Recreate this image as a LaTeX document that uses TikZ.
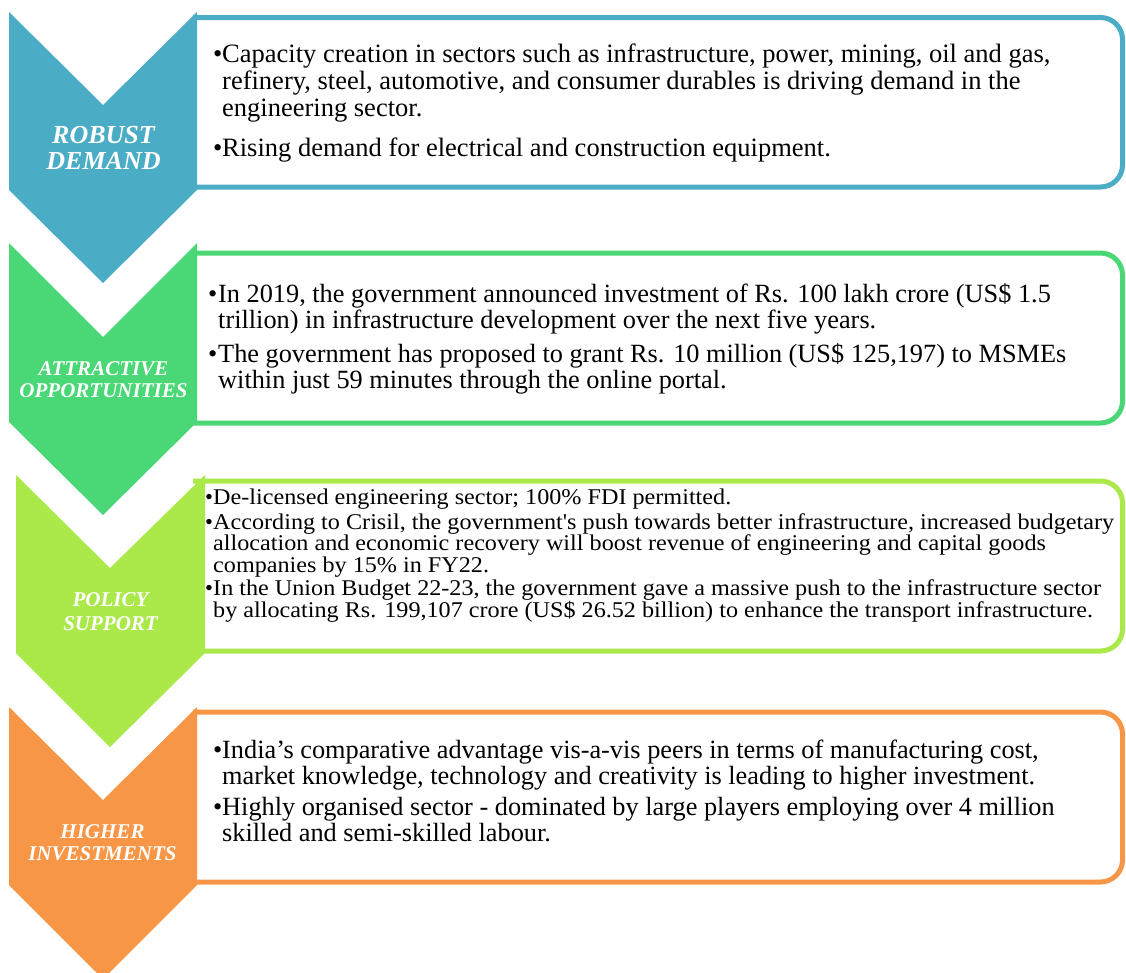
\documentclass[tikz,border=0pt]{standalone}
\usepackage{fontspec}
\usepackage{graphicx}
\setmainfont{Liberation Serif}[Ligatures=TeXOff]
\definecolor{cblue}{HTML}{4BACC6}
\definecolor{cgreen}{HTML}{4AD775}
\definecolor{clime}{HTML}{ABE84A}
\definecolor{corange}{HTML}{F79646}
\newcommand{\widebox}[1]{\scalebox{1.074}[1]{\parbox[t]{900pt}{\raggedright #1}}}
\begin{document}
\begin{tikzpicture}[x=1pt,y=-1pt,
  boxline/.style={line width=5pt, rounded corners=22pt, fill=white},
  txt/.style={inner sep=0pt, anchor=base west, text=black},
  lbl/.style={inner sep=0pt, anchor=base, text=white},
  bigtxt/.style={font=\fontsize{26.5}{27}\selectfont},
  midtxt/.style={font=\fontsize{26.3}{26}\selectfont},
  smalltxt/.style={font=\fontsize{22.5}{18.9}\selectfont},
  lbltxt/.style={font=\bfseries\itshape\fontsize{21}{22}\selectfont}]
\useasboundingbox (0,0) rectangle (1126,972);

% boxes
\begin{scope}
  \clip (193,0) rectangle (1126,972);
  \draw[boxline, draw=cblue]   (150,17.5) rectangle (1122.5,187);
  \draw[boxline, draw=cgreen]  (150,253)  rectangle (1122.5,423);
  \draw[boxline, draw=clime]   (150,481)  rectangle (1122.5,651);
  \draw[boxline, draw=corange] (150,712)  rectangle (1122.5,882);
\end{scope}

% chevrons
\fill[cblue]   (9,12)  -- (103,105) -- (197,12)  -- (197,190) -- (103,283) -- (9,190) -- cycle;
\fill[cgreen]  (9,243) -- (103,337) -- (197,243) -- (197,422) -- (103,515) -- (9,422) -- cycle;
\fill[clime]   (16,475) -- (110,568) -- (205,475) -- (205,653) -- (110,747) -- (16,653) -- cycle;
\fill[corange] (9,707) -- (103,800) -- (197,707) -- (197,885) -- (103,979) -- (9,885) -- cycle;

% labels
\node[lbl, font=\bfseries\itshape\fontsize{26}{26.5}\selectfont] (l1) at (103.5,143)
  {\parbox[t]{190pt}{\centering ROBUST\\DEMAND}};
\node[lbl, lbltxt] (l2) at (103.5,375.5)
  {\parbox[t]{190pt}{\centering ATTRACTIVE\\OPPORTUNITIES}};
\node[lbl, lbltxt, font=\bfseries\itshape\fontsize{21}{23.3}\selectfont] (l3) at (110.5,606.7)
  {\parbox[t]{190pt}{\centering POLICY\\SUPPORT}};
\node[lbl, lbltxt] (l4) at (102.5,838.5)
  {\parbox[t]{190pt}{\centering HIGHER\\INVESTMENTS}};

% box 1 text
\node[txt, bigtxt] (b1ad) at (213,62) {\textbullet};
\node[txt, bigtxt] (b1a) at (222,62) {\parbox[t]{1000pt}{\raggedright
  Capacity creation in sectors such as infrastructure, power, mining, oil and gas,\\
  refinery, steel, automotive, and consumer durables is driving demand in the\\
  engineering sector.}};
\node[txt, bigtxt] (b1bd) at (213,156) {\textbullet};
\node[txt, bigtxt] (b1b) at (222,156) {\parbox[t]{1000pt}{\raggedright
  Rising demand for electrical and construction equipment.}};

% box 2 text
\node[txt, midtxt] (b2ad) at (208,302) {\textbullet};
\node[txt, midtxt] (b2a) at (218,302) {\parbox[t]{1000pt}{\raggedright
  In 2019, the government announced investment of Rs. 100 lakh crore (US\$ 1.5\\
  trillion) in infrastructure development over the next five years.}};
\node[txt, midtxt] (b2bd) at (208,362) {\textbullet};
\node[txt, midtxt] (b2b) at (218,362) {\parbox[t]{1000pt}{\raggedright
  The government has proposed to grant Rs. 10 million (US\$ 125,197) to MSMEs\\
  within just 59 minutes through the online portal.}};

% box 3 text
\node[txt, smalltxt] (b3ad) at (205,504) {\textbullet};
\node[txt, smalltxt] (b3a) at (213,504) {\widebox{%
  De-licensed engineering sector; 100\% FDI permitted.}};
\node[txt, smalltxt] (b3bd) at (205,529) {\textbullet};
\node[txt, smalltxt] (b3b) at (213,529) {\widebox{%
  According to Crisil, the government's push towards better infrastructure, increased budgetary\\
  allocation and economic recovery will boost revenue of engineering and capital goods\\
  companies by 15\% in FY22.}};
\node[txt, smalltxt] (b3cd) at (205,595) {\textbullet};
\node[txt, smalltxt] (b3c) at (213,595) {\widebox{%
  In the Union Budget 22-23, the government gave a massive push to the infrastructure sector\\
  by allocating Rs. 199,107 crore (US\$ 26.52 billion) to enhance the transport infrastructure.}};

% box 4 text
\node[txt, midtxt] (b4ad) at (213,758.5) {\textbullet};
\node[txt, midtxt] (b4a) at (222,758.5) {\parbox[t]{1000pt}{\raggedright
  India’s comparative advantage vis-a-vis peers in terms of manufacturing cost,\\
  market knowledge, technology and creativity is leading to higher investment.}};
\node[txt, midtxt] (b4bd) at (213,815) {\textbullet};
\node[txt, midtxt] (b4b) at (222,815) {\parbox[t]{1000pt}{\raggedright
  Highly organised sector - dominated by large players employing over 4 million\\
  skilled and semi-skilled labour.}};
\end{tikzpicture}
\end{document}
